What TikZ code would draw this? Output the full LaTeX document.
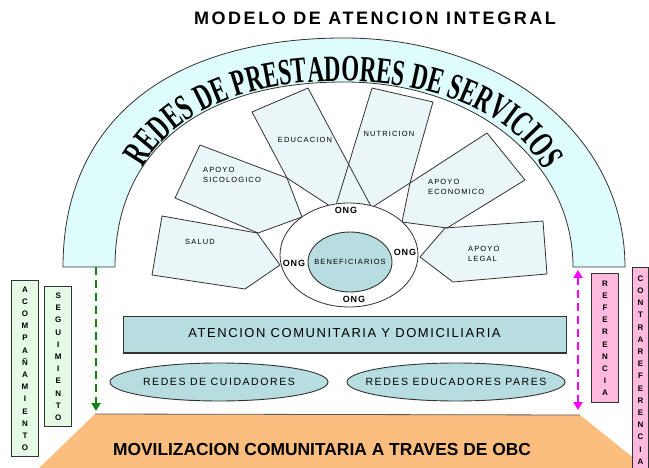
\documentclass[tikz,border=0pt]{standalone}
\usepackage{fontspec}
\setmainfont{Liberation Sans}
\newfontfamily\lsA[LetterSpace=12]{Liberation Sans}
\newfontfamily\lsT[LetterSpace=14]{Liberation Sans}
\newfontfamily\lsS[LetterSpace=15]{Liberation Sans}
\newfontfamily\lsO[LetterSpace=10]{Liberation Sans}
\newfontfamily\archfont[FakeStretch=0.62]{Liberation Serif}
\newcommand\archstyle{\archfont\bfseries\fontsize{37}{37}\selectfont}
\usetikzlibrary{shapes.geometric,arrows.meta,decorations.text}
\definecolor{bandc}{RGB}{222,252,252}
\definecolor{petalc}{RGB}{234,246,248}
\definecolor{tealc}{RGB}{183,221,225}
\definecolor{orangec}{RGB}{251,190,126}
\definecolor{greenbox}{RGB}{229,251,229}
\definecolor{pinkbox}{RGB}{255,186,222}
\definecolor{linec}{RGB}{50,50,50}
\definecolor{arrowgreen}{RGB}{20,130,20}
\definecolor{arrowmag}{RGB}{255,0,255}
\begin{document}
\begin{tikzpicture}[x=1pt,y=-1pt,
  petalfill/.style={fill=petalc},
  petalline/.style={draw=linec,line width=0.8pt,line join=round},
  petaltext/.style={inner sep=0pt,font=\lsS\fontsize{7.5}{10}\selectfont},
  ongtext/.style={inner sep=0pt,font=\lsO\bfseries\fontsize{9}{9}\selectfont},
  sidebox/.style={draw=linec,line width=1pt,inner sep=0pt,align=center,font=\bfseries\fontsize{8}{12.2}\selectfont},
  tealell/.style={ellipse,draw=linec,fill=tealc,line width=0.9pt,inner sep=0pt},
  dasharrow/.style={line width=2.5pt,dash pattern=on 8pt off 5pt}]
\useasboundingbox (0,0) rectangle (649,468);
% bottom trapezoid
\fill[orangec] (95,414) -- (580,415) -- (651,472) -- (35,472) -- cycle;
\draw[gray!70!black,line width=0.8pt] (95,414) -- (580,415);
% arch band
\draw[fill=bandc,draw=linec,line width=0.8pt]
  (63,267) .. controls (63,122.7) and (167,38) .. (344,38)
  .. controls (504.2,38) and (625,136.5) .. (625,267)
  -- (573,267) .. controls (573,161.5) and (474.5,82) .. (344,82)
  .. controls (199.7,82) and (115,150.4) .. (115,267) -- cycle;
\path[decorate,decoration={text along path,
   text={|\archstyle|REDES DE PRESTADORES DE SERVICIOS},
   text align=fit to path}]
  (143,168) .. controls (175,110) and (250,81) .. (340,81)
  .. controls (430,81) and (510,110) .. (543,168);
% petals fill
\fill[petalfill] (162,216) -- (257,233) -- (280,265) -- (245,289) -- (152,275) -- cycle;
\fill[petalfill] (200,145) -- (287,178) -- (302,217) -- (258,233) -- (175,198) -- cycle;
\fill[petalfill] (252,112) -- (308,88) -- (374,212) -- (336,210) -- (287,178) -- cycle;
\fill[petalfill] (372,88) -- (433,102) -- (410,183) -- (368,210) -- (334,212) -- cycle;
\fill[petalfill] (487,133) -- (525,180) -- (447,228) -- (402,222) -- (410,183) -- cycle;
\fill[petalfill] (445,228) -- (543,221) -- (547,274) -- (453,282) -- (420,257) -- cycle;
% petals outline
\draw[petalline] (162,216) -- (257,233) -- (280,265) -- (245,289) -- (152,275) -- cycle;
\draw[petalline] (200,145) -- (287,178) -- (302,217) -- (258,233) -- (175,198) -- cycle;
\draw[petalline] (252,112) -- (308,88) -- (374,212) -- (336,210) -- (287,178) -- cycle;
\draw[petalline] (372,88) -- (433,102) -- (410,183) -- (368,210) -- (334,212) -- cycle;
\draw[petalline] (487,133) -- (525,180) -- (447,228) -- (402,222) -- (410,183) -- cycle;
\draw[petalline] (445,228) -- (543,221) -- (547,274) -- (453,282) -- (420,257) -- cycle;
% petal labels
\node[petaltext] (salud) at (200,242) {SALUD};
\node[petaltext,anchor=west,align=left] (sico) at (203,175) {APOYO\\SICOLOGICO};
\node[petaltext] (educa) at (305,140) {EDUCACION};
\node[petaltext] (nutri) at (389,134) {NUTRICION};
\node[petaltext,anchor=west,align=left] (econ) at (428,187) {APOYO\\ECONOMICO};
\node[petaltext,anchor=west,align=left] (legal) at (468,253.5) {APOYO\\LEGAL};
% ring
\node[ellipse,draw=linec,fill=white,line width=0.8pt,inner sep=0pt,
      minimum width=138pt,minimum height=104pt] (ring) at (349,255) {};
\node[tealell,minimum width=84pt,minimum height=60pt] (benef) at (350,262) {};
\node[inner sep=0pt,font=\lsS\fontsize{7.5}{7.5}\selectfont] (benefT) at (benef.center) {BENEFICIARIOS};
\node[ongtext] (ongT) at (346,210) {ONG};
\node[ongtext] (ongL) at (294,263) {ONG};
\node[ongtext] (ongR) at (405,252) {ONG};
\node[ongtext] (ongB) at (354,299.5) {ONG};
% middle boxes
\node[draw=linec,fill=tealc,line width=1pt,inner sep=0pt,minimum width=443pt,minimum height=36pt] (aten) at (344.5,335) {};
\node[inner sep=0pt,font=\lsA\fontsize{13}{13}\selectfont] (atenT) at (344.5,333) {ATENCION COMUNITARIA Y DOMICILIARIA};
\node[tealell,minimum width=218pt,minimum height=38pt] (cuid) at (219,382) {};
\node[inner sep=0pt,font=\lsS\fontsize{10.5}{10.5}\selectfont] (cuidT) at (cuid.center) {REDES DE CUIDADORES};
\node[tealell,minimum width=218pt,minimum height=38pt] (pares) at (456,382) {};
\node[inner sep=0pt,font=\lsS\fontsize{10.5}{10.5}\selectfont] (paresT) at (pares.center) {REDES EDUCADORES PARES};
% texts
\node[inner sep=0pt,font=\lsT\bfseries\fontsize{18}{18}\selectfont] (title) at (375,18) {MODELO DE ATENCION INTEGRAL};
\node[inner sep=0pt,font=\bfseries\fontsize{17.4}{17.4}\selectfont] (movil) at (322,450) {MOVILIZACION COMUNITARIA A TRAVES DE OBC};
% side boxes
\node[sidebox,fill=greenbox,minimum width=26.6pt,minimum height=176pt] (acomp) at (25,368.7)
  {A\\C\\O\\M\\P\\A\\Ñ\\A\\M\\I\\E\\N\\T\\O};
\node[sidebox,fill=greenbox,minimum width=26.7pt,minimum height=139.7pt] (segui) at (58.3,356.8)
  {S\\E\\G\\U\\I\\M\\I\\E\\N\\T\\O};
\node[sidebox,fill=pinkbox,minimum width=26.6pt,minimum height=128.7pt] (refer) at (605,338.3)
  {R\\E\\F\\E\\R\\E\\N\\C\\I\\A};
\node[sidebox,fill=pinkbox,minimum width=16pt,minimum height=204pt] (contra) at (640.5,370)
  {C\\O\\N\\T\\R\\A\\R\\E\\F\\E\\R\\E\\N\\C\\I\\A};
% arrows
\coordinate (g1) at (96,267);
\coordinate (g2) at (96,411);
\coordinate (m1) at (578,270);
\coordinate (m2) at (578,410);
\draw[arrowgreen,dasharrow,-{Triangle[width=9pt,length=8pt]}] (g1) -- (g2);
\draw[arrowmag,dasharrow,{Triangle[width=9pt,length=8pt]}-{Triangle[width=9pt,length=8pt]}] (m1) -- (m2);
\end{tikzpicture}
\end{document}
